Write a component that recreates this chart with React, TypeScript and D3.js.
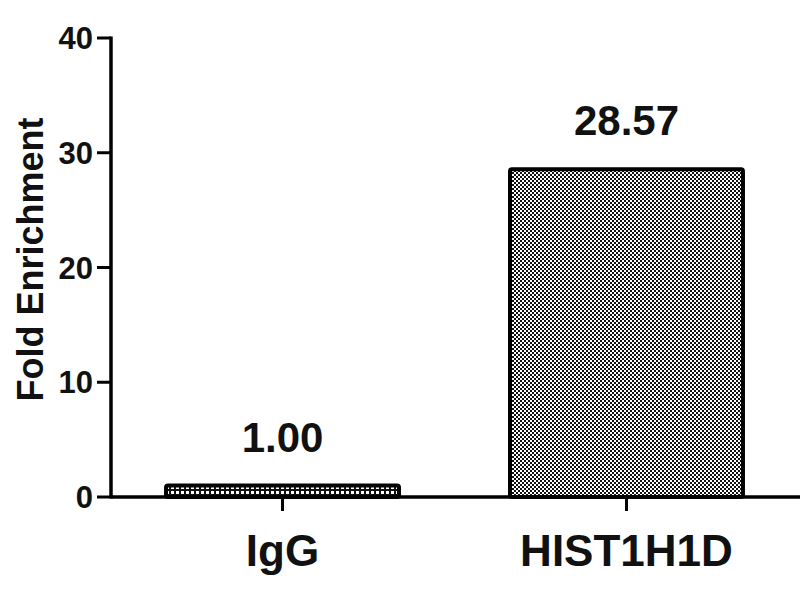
import React from 'react'
import * as d3 from 'd3'

const categories = ['IgG', 'HIST1H1D']
const values = [1.0, 28.57]
const valueLabels = ['1.00', '28.57']
const yTicks = [0, 10, 20, 30, 40]
const patterns = ['dotsIgG', 'checker']

const W = 800
const H = 600

export default function App() {
  const margin = { left: 111, top: 38, bottom: 103 }
  const y = d3.scaleLinear().domain([0, 40]).range([H - margin.bottom, margin.top])
  const x = d3.scaleBand().domain(categories).range([111, 798]).paddingInner(0.3227).paddingOuter(0.16)
  const font = 'Arial, "Liberation Sans", Helvetica, sans-serif'

  return (
    <svg width={W} height={H} style={{ position: 'absolute', left: 0, top: 0, background: '#fff' }}>
      <defs>
        <pattern id="checker" width="4" height="4" patternUnits="userSpaceOnUse">
          <rect width="4" height="4" fill="#fff" />
          <rect x="0" y="0" width="2" height="2" fill="#111" />
          <rect x="2" y="2" width="2" height="2" fill="#111" />
        </pattern>
        <pattern id="dotsIgG" width="5" height="5" patternUnits="userSpaceOnUse">
          <rect width="5" height="5" fill="#111" />
          <rect x="1" y="1" width="3" height="3" fill="#fff" />
        </pattern>
      </defs>
      {categories.map((c, i) => {
        const bx = x(c)!
        const bw = x.bandwidth()
        const top = y(values[i])
        return (
          <g key={c}>
            <rect x={bx} y={top} width={bw} height={y(0) - top} fill={`url(#${patterns[i]})`}
              stroke="#000" strokeWidth={4} rx={2} />
            <text x={bx + bw / 2} y={top - 34} textAnchor="middle" fontFamily={font}
              fontWeight="bold" fontSize={42} fill="#111">{valueLabels[i]}</text>
            <line x1={bx + bw / 2} x2={bx + bw / 2} y1={y(0)} y2={y(0) + 14} stroke="#000" strokeWidth={3} />
            <text x={bx + bw / 2} y={y(0) + 69} textAnchor="middle" fontFamily={font}
              fontWeight="bold" fontSize={44} fill="#111">{c}</text>
          </g>
        )
      })}
      <line x1={111} x2={W} y1={y(0)} y2={y(0)} stroke="#000" strokeWidth={3.5} />
      <line x1={111} x2={111} y1={y(40) - 1.5} y2={y(0) + 1.5} stroke="#000" strokeWidth={3.5} />
      {yTicks.map(t => (
        <g key={t}>
          <line x1={97} x2={111} y1={y(t)} y2={y(t)} stroke="#000" strokeWidth={3} />
          <text x={93} y={y(t)} dy="0.36em" textAnchor="end" fontFamily={font}
            fontWeight="bold" fontSize={31} fill="#111">{t}</text>
        </g>
      ))}
      <text transform={`translate(43,${(y(0) + y(40)) / 2 - 8}) rotate(-90)`} textAnchor="middle"
        fontFamily={font} fontWeight="bold" fontSize={36} fill="#111">Fold Enrichment</text>
    </svg>
  )
}
